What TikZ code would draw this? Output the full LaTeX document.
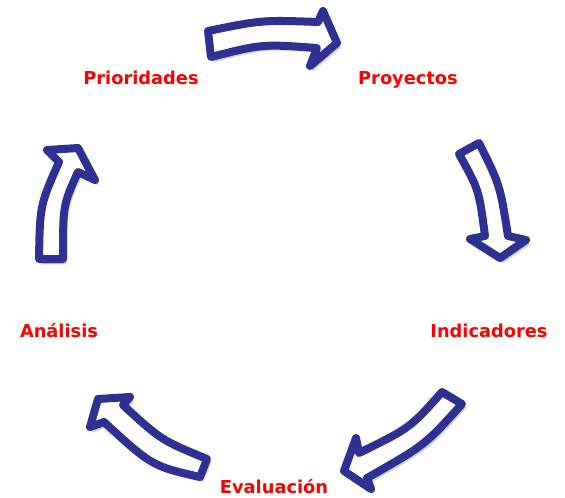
\documentclass[tikz,border=0pt]{standalone}
\usepackage{fontspec}
\setmainfont{DejaVu Sans}
\usetikzlibrary{shadows.blur}
\definecolor{arrowblue}{RGB}{46,49,146}
\definecolor{labelred}{RGB}{255,0,0}
\tikzset{
  blockarrow/.style={draw=arrowblue, fill=white, line width=8pt, line join=round,
    blur shadow={shadow xshift=3pt, shadow yshift=-4pt, shadow blur steps=8, shadow opacity=35}},
  steplabel/.style={text=labelred, font=\bfseries\fontsize{17.8}{20}\selectfont, anchor=base, inner sep=0pt}
}
\begin{document}
\begin{tikzpicture}[x=1pt,y=-1pt]
\useasboundingbox (0,0) rectangle (565,498);
% labels
\node[steplabel] (prior) at (141,84) {Prioridades};
\node[steplabel] (proy) at (408,84) {Proyectos};
\node[steplabel] (indic) at (489,337) {Indicadores};
\node[steplabel] (eval) at (274,493) {Evaluación};
\node[steplabel] (anal) at (59,337) {Análisis};
% arrows
\draw[blockarrow] (208,31) .. controls (262,20) .. (318,22) -- (323,11) -- (337,43) -- (310,66) -- (317,48) .. controls (262,44) .. (211,57) -- cycle;
\draw[blockarrow] (459,154) -- (479,143) .. controls (500,185) .. (508,236) -- (526,240) -- (500,258) -- (470,239) -- (485,236) .. controls (479,190) .. (459,154) -- cycle;
\draw[blockarrow] (442,392) -- (462,404) .. controls (425,445) .. (367,478) -- (371,489) -- (344,471) -- (356,438) -- (359,453) .. controls (410,428) .. (442,392) -- cycle;
\draw[blockarrow] (207,459) -- (200,477) .. controls (152,466) .. (104,422) -- (90,427) -- (98,399) -- (130,397) -- (123,405) .. controls (161,440) .. (207,459) -- cycle;
\draw[blockarrow] (39,259) -- (63,259) .. controls (63,205) .. (78,172) -- (95,180) -- (78,148) -- (47,150) -- (59,162) .. controls (40,205) .. (39,259) -- cycle;
\end{tikzpicture}
\end{document}
